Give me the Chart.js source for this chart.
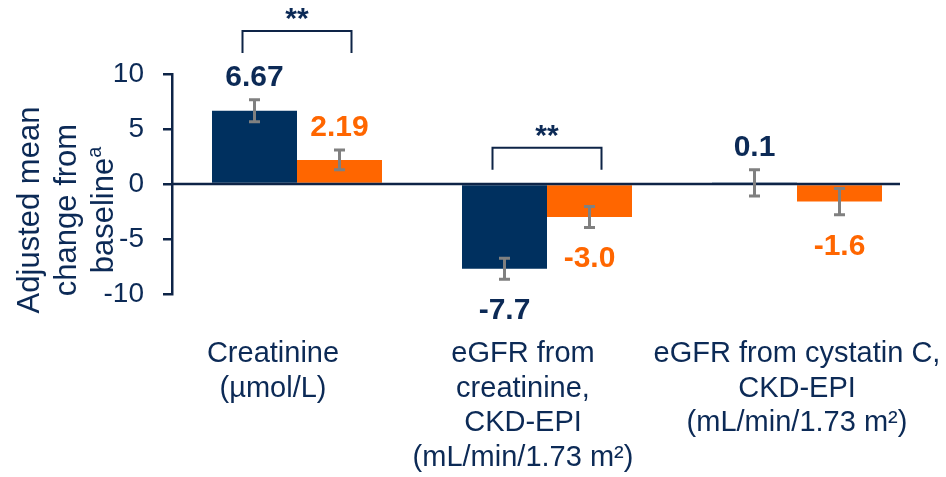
<!DOCTYPE html>
<html>
<head>
<meta charset="utf-8">
<script src="https://cdn.jsdelivr.net/npm/chart.js@4.4.1/dist/chart.umd.min.js"></script>
<style>
  html, body { margin: 0; padding: 0; background: #ffffff; }
  #wrap { width: 946px; height: 477px; position: relative; }
</style>
</head>
<body>
<div id="wrap"><canvas id="chart" width="946" height="477"></canvas></div>
<script>
// Categories (multi-line labels) and series values
const categories = [
  ['Creatinine', '(\u00b5mol/L)'],
  ['eGFR from', 'creatinine,', 'CKD-EPI', '(mL/min/1.73 m\u00b2)'],
  ['eGFR from cystatin C,', 'CKD-EPI', '(mL/min/1.73 m\u00b2)']
];
const navyValues = [6.67, -7.7, 0.1];
const orangeValues = [2.19, -3.0, -1.6];
const navyErrors = [1.0, 0.95, 1.2];
const orangeErrors = [0.9, 0.95, 1.2];
const labelDecimals = [2, 1, 1];
const yTicks = [-10, -5, 0, 5, 10];
const yTitleLines = ['Adjusted mean', 'change from', 'baseline'];
const yTitleSup = 'a';
const sigCategories = [0, 1];
const sigLevels = [13.9, 3.3];
const sigMarks = ['**', '**'];

// Styling
const NAVY = '#00305F';
const NAVY_TEXT = '#0C2A56';
const AXIS = '#0E2447';
const ORANGE = '#FF6600';
const GREY = '#808080';
const FONT = '"Liberation Sans", Arial, Helvetica, sans-serif';
const CATEGORY_LABEL_SHIFT = [-24, -24, 0];

// Zero reference line, drawn over the bars
const zeroLine = {
  id: 'zeroLine',
  afterDatasetsDraw(chart) {
    const { ctx, chartArea, scales: { y } } = chart;
    const py = y.getPixelForValue(0);
    ctx.save();
    ctx.strokeStyle = AXIS;
    ctx.lineWidth = 2.5;
    ctx.beginPath();
    ctx.moveTo(chartArea.left, py);
    ctx.lineTo(chartArea.right - 22, py);
    ctx.stroke();
    ctx.restore();
  }
};

// Error bars, value labels, significance brackets, category and axis titles
const annotations = {
  id: 'annotations',
  afterDatasetsDraw(chart) {
    const { ctx, chartArea, scales: { x, y } } = chart;
    const errs = [navyErrors, orangeErrors];
    const colors = [NAVY_TEXT, ORANGE];

    chart.data.datasets.forEach((ds, di) => {
      const meta = chart.getDatasetMeta(di);
      meta.data.forEach((bar, i) => {
        const v = ds.data[i];
        const e = errs[di][i];
        const top = y.getPixelForValue(v + e);
        const bot = y.getPixelForValue(v - e);
        // error bar
        ctx.save();
        ctx.strokeStyle = GREY;
        ctx.lineWidth = 3;
        ctx.beginPath();
        ctx.moveTo(bar.x, top); ctx.lineTo(bar.x, bot);
        ctx.moveTo(bar.x - 5.5, top); ctx.lineTo(bar.x + 5.5, top);
        ctx.moveTo(bar.x - 5.5, bot); ctx.lineTo(bar.x + 5.5, bot);
        ctx.stroke();
        ctx.restore();
        // value label
        ctx.save();
        ctx.font = 'bold 30px ' + FONT;
        ctx.fillStyle = colors[di];
        ctx.textAlign = 'center';
        ctx.textBaseline = 'alphabetic';
        const txt = v.toFixed(labelDecimals[i]);
        const ly = v >= 0 ? top - 14 : bot + 40;
        ctx.fillText(txt, bar.x, ly);
        ctx.restore();
      });
    });

    // significance brackets
    sigCategories.forEach((c, k) => {
      const cx = x.getPixelForValue(c);
      const py = y.getPixelForValue(sigLevels[k]);
      ctx.save();
      ctx.strokeStyle = AXIS;
      ctx.lineWidth = 2;
      ctx.beginPath();
      ctx.moveTo(cx - 54.5, py + 22);
      ctx.lineTo(cx - 54.5, py);
      ctx.lineTo(cx + 54.5, py);
      ctx.lineTo(cx + 54.5, py + 22);
      ctx.stroke();
      ctx.font = 'bold 30px ' + FONT;
      ctx.fillStyle = NAVY_TEXT;
      ctx.textAlign = 'center';
      ctx.textBaseline = 'middle';
      ctx.fillText(sigMarks[k], cx, py - 11);
      ctx.restore();
    });

    // category labels below the plot
    ctx.save();
    ctx.font = '29px ' + FONT;
    ctx.fillStyle = NAVY_TEXT;
    ctx.textAlign = 'center';
    ctx.textBaseline = 'middle';
    categories.forEach((lines, i) => {
      const cx = x.getPixelForValue(i) + CATEGORY_LABEL_SHIFT[i];
      lines.forEach((l, j) => {
        ctx.fillText(l, cx, chartArea.bottom + 60 + j * 34.5);
      });
    });
    ctx.restore();

    // rotated y-axis title
    ctx.save();
    ctx.translate(67, (chartArea.top + chartArea.bottom) / 2 + 26);
    ctx.rotate(-Math.PI / 2);
    ctx.fillStyle = NAVY_TEXT;
    ctx.textBaseline = 'middle';
    ctx.font = '31px ' + FONT;
    yTitleLines.forEach((l, j) => {
      const ly = (j - 1) * 37;
      if (j < yTitleLines.length - 1) {
        ctx.textAlign = 'center';
        ctx.fillText(l, 0, ly);
      } else {
        ctx.font = '31px ' + FONT;
        const w = ctx.measureText(l).width;
        ctx.font = '20px ' + FONT;
        const ws = ctx.measureText(yTitleSup).width;
        const start = -(w + ws) / 2;
        ctx.textAlign = 'left';
        ctx.font = '31px ' + FONT;
        ctx.fillText(l, start, ly);
        ctx.font = '20px ' + FONT;
        ctx.fillText(yTitleSup, start + w, ly - 9);
      }
    });
    ctx.restore();
  }
};

new Chart(document.getElementById('chart'), {
  type: 'bar',
  data: {
    labels: categories,
    datasets: [
      { data: navyValues, backgroundColor: NAVY, borderWidth: 0 },
      { data: orangeValues, backgroundColor: ORANGE, borderWidth: 0 }
    ]
  },
  options: {
    responsive: false,
    animation: false,
    categoryPercentage: 0.68,
    barPercentage: 1.0,
    layout: { padding: { top: 74, right: 24, bottom: 183, left: 0 } },
    plugins: { legend: { display: false }, tooltip: { enabled: false } },
    scales: {
      x: { display: false, offset: true },
      y: {
        min: -10, max: 10,
        afterBuildTicks(scale) { scale.ticks = yTicks.map(v => ({ value: v })); },
        afterFit(scale) { scale.width = 172; },
        border: { display: true, color: AXIS, width: 2.5 },
        grid: { display: true, drawOnChartArea: false, drawTicks: true, tickLength: 9, color: AXIS, lineWidth: 2.5 },
        ticks: { color: NAVY_TEXT, padding: 19, font: { family: FONT, size: 28 } }
      }
    }
  },
  plugins: [zeroLine, annotations]
});
</script>
</body>
</html>
